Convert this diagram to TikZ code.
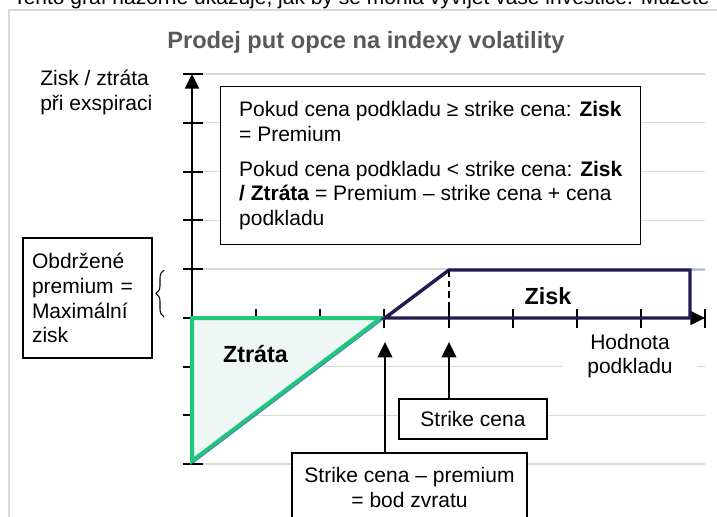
\documentclass[tikz,border=0pt]{standalone}
\usepackage{fontspec}
\setmainfont{Liberation Sans}
\usetikzlibrary{arrows.meta,decorations.pathreplacing,positioning}
\definecolor{mynavy}{RGB}{33,28,82}
\definecolor{mygreen}{RGB}{30,200,120}
\definecolor{mygreenfill}{RGB}{238,247,243}
\definecolor{mygray}{RGB}{89,89,89}
\definecolor{gridgray}{RGB}{217,217,217}
\definecolor{myblue}{RGB}{68,114,196}
\newcommand{\bodyfont}{\fontsize{15.75}{18.6}\selectfont}
\newcommand{\bigbold}{\fontsize{17.5}{21}\selectfont\bfseries}

\begin{document}
\begin{tikzpicture}[x=0.75pt, y=-0.75pt,
    every node/.style={font=\bodyfont, inner sep=0pt},
    infobox/.style={draw, line width=1.1pt, fill=white},
    gridln/.style={draw=gridgray, line width=1.1pt},
    axline/.style={line width=1.5pt},
    arr/.style={line width=1.1pt, -{Triangle[width=11pt,length=11.5pt]}}]
  \useasboundingbox (0,0) rectangle (717,517);
  \clip (0,0) rectangle (717,517);
  \coordinate (O) at (192,318);
  \coordinate (ytop) at (192,74);
  \coordinate (ybot) at (192,464);
  \coordinate (xend) at (705,318);
  \coordinate (bep) at (385,318);
  \coordinate (strike) at (449,318);
  \coordinate (cap) at (449,270);
  \coordinate (beptip) at (385,342);
  \coordinate (striketip) at (449,342);
  \draw[draw=gridgray, line width=1.5pt] (9,10) rectangle (740,540);
  \node[anchor=base west] (intro) at (13,5) {Tento graf názorně ukazuje, jak by se mohla vyvíjet vaše investice. Můžete};
  \node[font=\fontsize{17.75}{21}\selectfont\bfseries, text=mygray, anchor=base west] (title) at (167,49) {Prodej put opce na indexy volatility};
  \foreach \k in {0,...,8}
    \draw[gridln] (192,{74+48.75*\k}) -- (705,{74+48.75*\k});
  \node[fill=white, align=center, inner xsep=18pt, inner ysep=2pt] (xlabel) at (630,356) {Hodnota\\ podkladu};
  \node[anchor=west, align=left] (ylabel) at (40,92.5) {Zisk / ztráta\\ při exspiraci};
  \foreach \k in {0,...,8}
    \draw[axline] (183,{74+48.75*\k}) -- (203,{74+48.75*\k});
  \foreach \k in {1,...,8}
    \draw[axline] ({192+64.125*\k},309) -- ({192+64.125*\k},328);
  \draw[axline, -{Triangle[width=10.5pt,length=11pt]}] (ybot) -- (ytop);
  \draw[axline, -{Triangle[width=10.5pt,length=11pt]}] (O) -- (xend);
  \draw[draw=mygreen, fill=mygreenfill, line width=3pt] (O) -- (381,318) -- (192,461) -- cycle;
  \draw[draw=myblue, line width=0.6pt] (193,463) -- (bep) -- (cap) -- (705,270);
  \draw[draw=mynavy, line width=2.6pt] (bep) -- (cap) -- (690,270) -- (690,318) -- cycle;
  \draw[line width=1.5pt, dash pattern=on 5pt off 3pt] (cap) -- (strike);
  \node[font=\bigbold] (zisk) at (548,296) {Zisk};
  \node[font=\bigbold] (ztrata) at (255.5,354) {Ztráta};
  \node[infobox, anchor=north west, align=left, minimum width=315pt,
    minimum height=118.5pt] (rules) at (220,86)
    {Pokud cena podkladu ≥ strike cena: \textbf{Zisk}\\ = Premium\\[7.5pt]
     Pokud cena podkladu < strike cena: \textbf{Zisk}\\ \textbf{/ Ztráta} = Premium – strike cena + cena\\ podkladu};
  \node[infobox, align=left, text width=83.25pt, inner xsep=6.75pt, minimum height=90pt] (premium) at (87.5,298)
    {Obdržené\\ premium =\\ Maximální\\ zisk};
  \draw[decorate, decoration={brace, amplitude=6pt}, line width=0.8pt] (164,317) -- (164,270);
  \node[infobox, align=center, minimum width=111pt, minimum height=30pt] (strikebox) at (473,419) {Strike cena};
  \node[infobox, align=center, minimum width=176.25pt, minimum height=51.75pt] (bepbox) at (409.5,487.5)
    {Strike cena – premium\\ = bod zvratu};
  \draw[arr] (bepbox.north -| bep) -- (beptip);
  \draw[arr] (strikebox.north -| strike) -- (striketip);
\end{tikzpicture}
\end{document}
